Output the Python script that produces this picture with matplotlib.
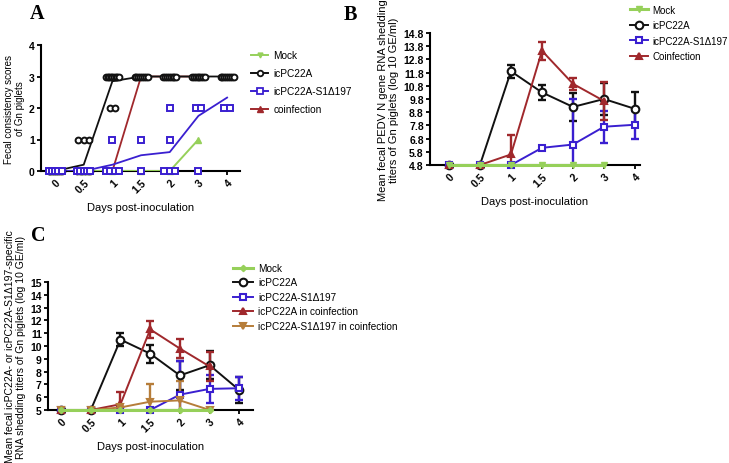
import numpy as np
import matplotlib.pyplot as plt

plt.rcParams['font.family'] = ['Liberation Sans', 'DejaVu Sans']

# ---- data ----
days = ['0', '0.5', '1', '1.5', '2', '3', '4']

# Panel A: individual fecal scores per day
a_icpc22a_pts = [[0] * 8, [1, 1, 1] + [0] * 6, [3] * 9 + [2, 2], [3] * 8, [3] * 8, [3] * 8, [3] * 8]
a_s1d197_pts = [[0] * 5, [0] * 5, [1] + [0] * 4, [1, 0], [2, 1, 0, 0, 0], [2, 2, 0], [2, 2]]
a_mock_pts = [[0], [0], [0], [0], [0], [1]]
# Panel A: group mean lines
a_mock_mean = [0, 0, 0, 0, 0, 1]
a_icpc22a_mean = [0, 0.2, 2.85, 3, 3, 3, 3]
a_s1d197_mean = [0, 0, 0.2, 0.5, 0.6, 1.75, 2.33]
a_coinf_mean = [0, 0, 0, 3, 3, 3]

# Panel B: mean titers and errors
b_mock = [4.8, 4.8, 4.8, 4.8, 4.8, 4.8]
b_icpc22a = [4.8, 4.8, 11.9, 10.3, 9.2, 9.8, 9.05]
b_icpc22a_err = [0, 0, 0.5, 0.55, 1.05, 1.2, 1.25]
b_s1d197 = [4.8, 4.8, 4.8, 6.1, 6.35, 7.7, 7.85]
b_s1d197_err = [0, 0, 0, 0, 3.45, 1.2, 1.05]
b_coinf = [4.8, 4.8, 5.6, 13.45, 10.95, 9.65]
b_coinf_err = [0, 0, 1.5, 0.7, 0.45, 1.45]

# Panel C: mean titers and errors
c_mock = [5, 5, 5, 5, 5, 5]
c_icpc22a = [5, 5, 10.5, 9.4, 7.7, 8.5, 6.55]
c_icpc22a_err = [0, 0, 0.5, 0.7, 1.1, 1.1, 1.0]
c_s1d197 = [5, 5, 5, 5, 6.2, 6.65, 6.7]
c_s1d197_err = [0, 0, 0, 0, 2.6, 1.1, 0.9]
c_icpc22a_coinf = [5, 5, 5.45, 11.3, 9.8, 8.4]
c_icpc22a_coinf_err = [0, 0, 0.95, 0.65, 0.75, 1.15]
c_s1d197_coinf = [5, 5, 5.2, 5.65, 5.75, 5.0]
c_s1d197_coinf_err = [0, 0, 0, 1.4, 1.5, 0]

GREEN = '#96d05a'
BLACK = '#111111'
BLUE = '#3a1fd0'
RED = '#a0282c'
BROWN = '#b67d3a'

W, H = 729, 464
fig = plt.figure(figsize=(W / 100, H / 100), dpi=100)


def box(left, top, right, bottom):
    return [left / W, 1 - bottom / H, (right - left) / W, (bottom - top) / H]


def style_axis(ax, xlim, ylim, yticks, ylabel, ylabsize):
    ax.set_xlim(*xlim)
    ax.set_ylim(*ylim)
    ax.set_yticks(yticks)
    ax.set_xticks(range(len(days)))
    ax.set_xticklabels(days, rotation=45, ha='right', rotation_mode='anchor')
    for s in ['top', 'right']:
        ax.spines[s].set_visible(False)
    for s in ['left', 'bottom']:
        ax.spines[s].set_linewidth(1.5)
    ax.tick_params(width=1.3, length=3, labelsize=7.5, pad=1.5)
    for lab in ax.get_yticklabels() + ax.get_xticklabels():
        lab.set_fontweight('bold')
    ax.set_xlabel('Days post-inoculation', fontsize=8, labelpad=5)
    ax.set_ylabel(ylabel, fontsize=ylabsize, labelpad=3, linespacing=1.15)


def spread(n):
    # side-by-side layout of tied points, squeezed when there are many
    w = min(0.2 * (n - 1), 0.45)
    return np.linspace(-w / 2, w / 2, n) if n > 1 else np.zeros(1)


def scatter_group(ax, pts, marker, color, ms):
    for i, vals in enumerate(pts):
        vals = np.array(vals)
        for v in np.unique(vals):
            n = int((vals == v).sum())
            xs = i + spread(n)
            ax.plot(xs, [v] * n, ls='none', marker=marker, ms=ms, mfc='white',
                    mec=color, mew=1.4, clip_on=False, zorder=4)


def err_line(ax, y, err, color, marker, label, ms=5, mfc='white'):
    x = np.arange(len(y))
    ax.errorbar(x, y, yerr=err, fmt='none', ecolor=color, elinewidth=1.7,
                capsize=3, capthick=1.7, zorder=3)
    ax.plot(x, y, color=color, lw=1.4, marker=marker, ms=ms, mfc=mfc,
            mec=color, mew=1.5, clip_on=False, zorder=4, label=label)


# ---- Panel A ----
axA = fig.add_axes(box(41, 46, 240, 172))
scatter_group(axA, a_icpc22a_pts, 'o', BLACK, 4.2)
scatter_group(axA, a_s1d197_pts, 's', BLUE, 4.0)
axA.plot(range(len(a_mock_mean)), a_mock_mean, color=GREEN, lw=1.4, zorder=3)
axA.plot(range(len(a_mock_pts)), [p[0] for p in a_mock_pts], ls='none', marker='^',
         ms=4.5, color=GREEN, clip_on=False, zorder=2)
axA.plot(range(len(a_icpc22a_mean)), a_icpc22a_mean, color=BLACK, lw=1.3, zorder=3)
axA.plot(range(len(a_s1d197_mean)), a_s1d197_mean, color=BLUE, lw=1.3, zorder=3)
axA.plot(range(len(a_coinf_mean)), a_coinf_mean, color=RED, lw=1.3, zorder=2)
style_axis(axA, (-0.49, 6.45), (0, 4), range(0, 5),
           'Fecal consistency scores\nof Gn piglets', 7)

handlesA = [
    plt.Line2D([], [], color=GREEN, lw=1.4, marker='v', ms=3.5),
    plt.Line2D([], [], color=BLACK, lw=1.4, marker='o', ms=4, mfc='white', mew=1.3),
    plt.Line2D([], [], color=BLUE, lw=1.4, marker='s', ms=4, mfc='white', mew=1.3),
    plt.Line2D([], [], color=RED, lw=1.4, marker='^', ms=4),
]
fig.legend(handlesA, ['Mock', 'icPC22A', 'icPC22A-S1\u0394197', 'coinfection'],
           loc='upper left', bbox_to_anchor=(247 / W, 1 - 47 / H), frameon=False,
           fontsize=7.3, handlelength=1.7, labelspacing=0.8, handletextpad=0.5,
           borderaxespad=0)

# ---- Panel B ----
axB = fig.add_axes(box(430, 34, 640, 166))
err_line(axB, b_icpc22a, b_icpc22a_err, BLACK, 'o', 'icPC22A', ms=5.5)
err_line(axB, b_s1d197, b_s1d197_err, BLUE, 's', 'icPC22A-S1\u0394197', ms=5)
err_line(axB, b_coinf, b_coinf_err, RED, '^', 'Coinfection', ms=4, mfc=RED)
axB.plot(range(len(b_mock)), b_mock, color=GREEN, lw=2.2, marker='v', ms=4.5,
         clip_on=False, zorder=5, label='Mock')
bticks = np.arange(4.8, 14.81, 1.0)
style_axis(axB, (-0.61, 6.16), (4.8, 14.8), bticks,
           'Mean fecal PEDV N gene RNA shedding\ntiters of Gn piglets (log 10 GE/ml)', 8)
axB.set_yticklabels(['%.1f' % v for v in bticks], fontweight='bold')
h, l = axB.get_legend_handles_labels()
order = [3, 0, 1, 2]
fig.legend([h[i] for i in order], [l[i] for i in order], loc='upper left',
           bbox_to_anchor=(626 / W, 1 - 2 / H), frameon=False, fontsize=7,
           handlelength=1.9, labelspacing=0.55, handletextpad=0.4, borderaxespad=0)

# ---- Panel C ----
axC = fig.add_axes(box(48, 283, 253, 411))
err_line(axC, c_icpc22a, c_icpc22a_err, BLACK, 'o', 'icPC22A', ms=5.5)
err_line(axC, c_s1d197, c_s1d197_err, BLUE, 's', 'icPC22A-S1\u0394197', ms=5)
err_line(axC, c_icpc22a_coinf, c_icpc22a_coinf_err, RED, '^', 'icPC22A in coinfection', ms=4, mfc=RED)
err_line(axC, c_s1d197_coinf, c_s1d197_coinf_err, BROWN, 'v', 'icPC22A-S1\u0394197 in coinfection', ms=4, mfc=BROWN)
axC.plot(range(len(c_mock)), c_mock, color=GREEN, lw=2.2, marker='D', ms=3.2,
         clip_on=False, zorder=5, label='Mock')
style_axis(axC, (-0.44, 6.46), (5, 15), range(5, 16),
           'Mean fecal icPC22A- or icPC22A-S1\u0394197-specific\nRNA shedding titers of Gn piglets (log 10 GE/ml)', 7.5)
h, l = axC.get_legend_handles_labels()
order = [4, 0, 1, 2, 3]
fig.legend([h[i] for i in order], [l[i] for i in order], loc='upper left',
           bbox_to_anchor=(229 / W, 1 - 260 / H), frameon=False, fontsize=7.2,
           handlelength=2.0, labelspacing=0.45, handletextpad=0.5, borderaxespad=0)

# ---- panel letters ----
for letter, x, y in [('A', 30, 19), ('B', 344, 20), ('C', 31, 241)]:
    fig.text(x / W, 1 - y / H, letter, fontsize=14.5, fontweight='bold',
             family='Liberation Serif')

fig.savefig('out.png', dpi=100)
